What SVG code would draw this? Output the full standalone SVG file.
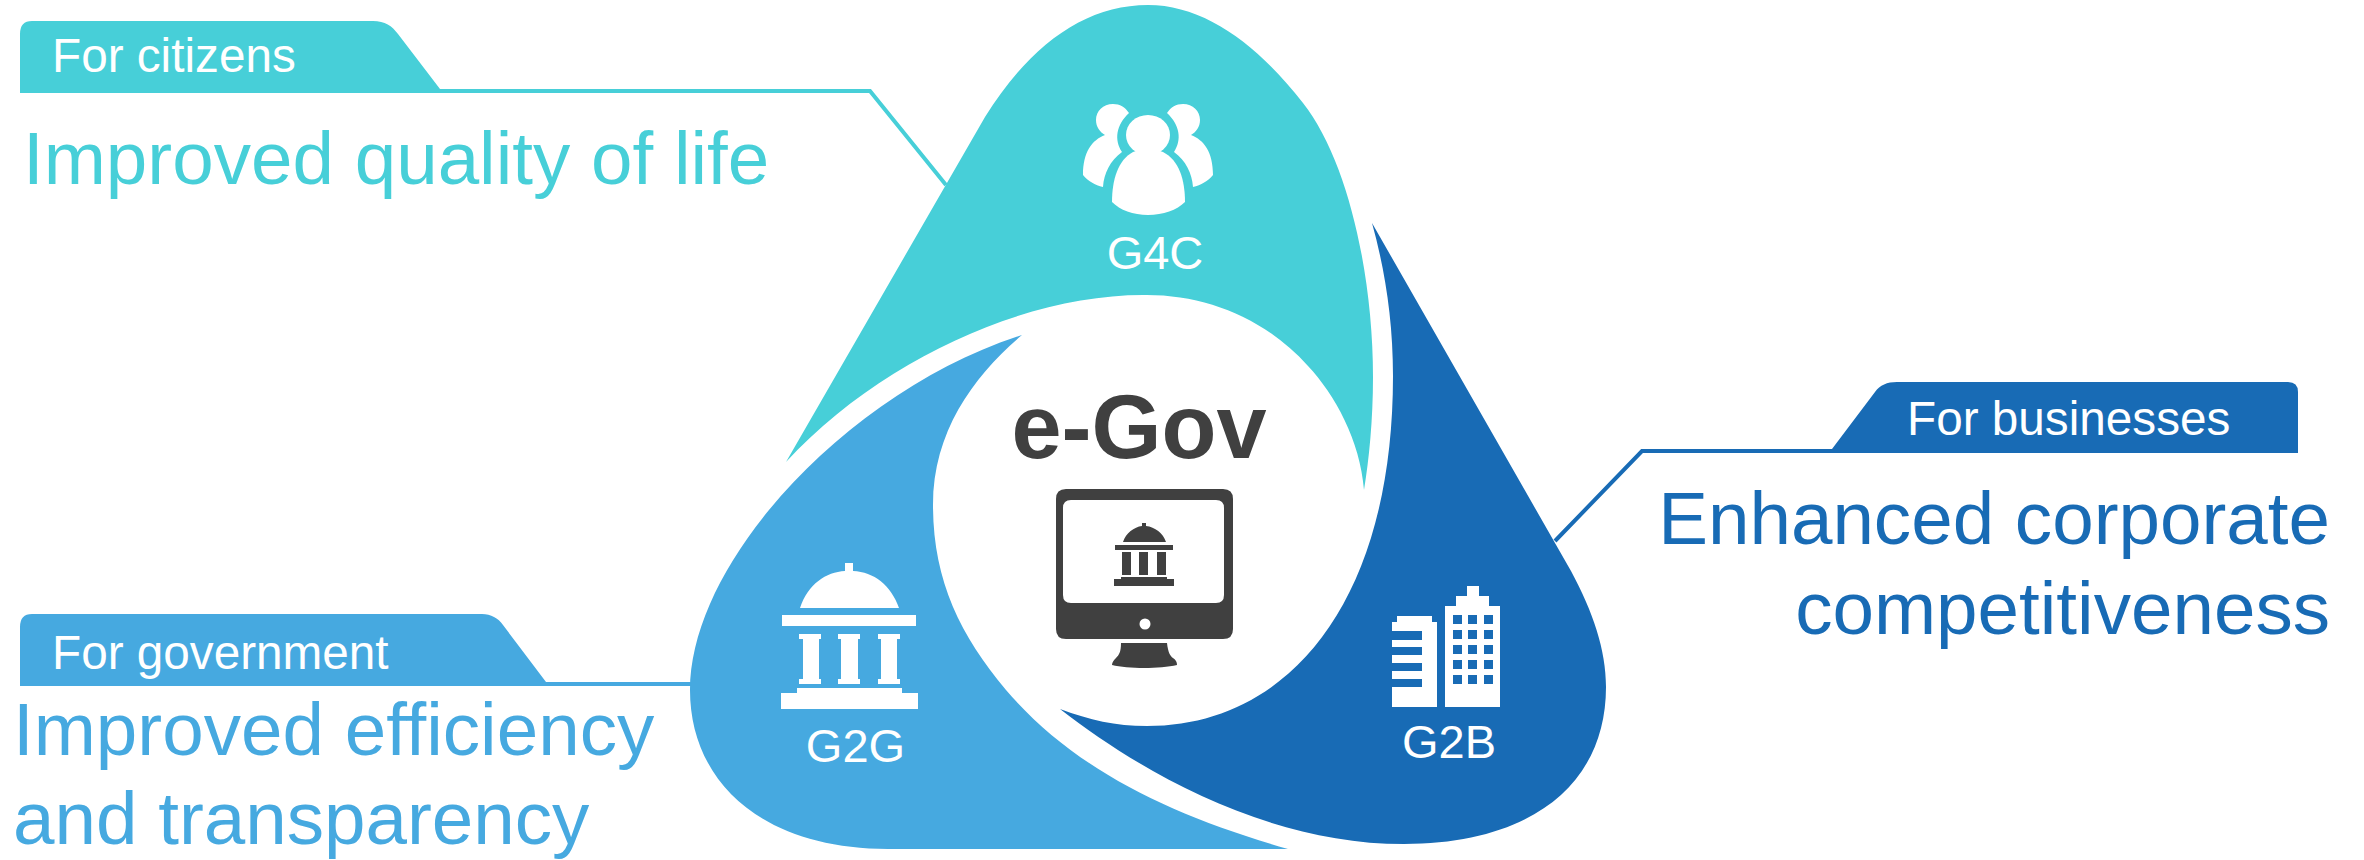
<svg xmlns="http://www.w3.org/2000/svg" width="2364" height="860" viewBox="0 0 2364 860">
<style>
text{font-family:"Liberation Sans",Arial,sans-serif}
.teal{fill:#47CFD8}.light{fill:#46A9E0}.dark{fill:#186BB5}.grey{fill:#404040}.w{fill:#fff}
.tab{font-size:47.7px;fill:#fff}
.big{font-size:74.6px}
.code{font-size:47px;fill:#fff}
.cn{fill:none;stroke-width:4}
</style>
<defs>
<g id="bank">
<path d="M800,608C808,584 826,572 845,571V563H853V571C874,572 891,585 899,608Z"/>
<rect x="782" y="615" width="134" height="11"/>
<path d="M799,634H821V639H819V679H821V684H799V679H803V639H799Z"/>
<path d="M838,634H860V639H858V679H860V684H838V679H841V639H838Z"/>
<path d="M878,634H900V639H897V679H900V684H878V679H881V639H878Z"/>
<path d="M797,688H902V693H918V709H781V693H797Z"/>
</g>
</defs>
<rect width="2364" height="860" fill="#fff"/>
<g id="connectors">
<path class="cn" stroke="#47CFD8" d="M440,91H870L946,185"/>
<path class="cn" stroke="#46A9E0" d="M546,684H692"/>
<path class="cn" stroke="#186BB5" d="M1832,451H1642L1555,541"/>
</g>
<g id="g4c">
<path class="teal" d="M786,462L985,117C1030,45 1085,5 1148,5C1205,5 1258,45 1303,103C1348,160 1373,275 1373,377C1373,420 1369,460 1364,490C1360,440 1335,395 1308,366C1265,318 1205,294 1143,295C1025,295 880,360 786,462Z"/>
<g class="w">
<ellipse cx="1148" cy="135" rx="22" ry="20"/>
<path d="M1133,152C1118,160 1112,180 1112,202C1120,210 1133,215 1148,215C1163,215 1177,210 1185,202C1185,180 1179,160 1163,152Q1148,145 1133,152Z"/>
<path d="M1129,113C1125,107 1120,104 1113,104C1103,104 1096,111 1096,120C1096,127 1100,132 1105,135C1092,140 1083,152 1083,175C1088,181 1095,185 1103,187C1104,173 1110,161 1122,152C1114,140 1116,125 1129,113Z"/>
<path d="M1167,113C1171,107 1176,104 1183,104C1193,104 1200,111 1200,120C1200,127 1196,132 1191,135C1204,140 1213,152 1213,175C1208,181 1201,185 1193,187C1192,173 1186,161 1174,152C1182,140 1180,125 1167,113Z"/>
</g>
<text class="code" x="1155" y="269" text-anchor="middle">G4C</text>
</g>
<g id="g2g">
<path class="light" d="M1022,335C975,375 933,430 933,505C933,580 960,635 1006,690C1075,770 1170,815 1288,849L888,849C760,849 690,780 690,690C690,560 850,390 1022,335Z"/>
<use href="#bank" class="w"/>
<text class="code" x="855.5" y="762" text-anchor="middle">G2G</text>
</g>
<g id="g2b">
<path class="dark" d="M1372,223L1571,571C1593,612 1606,650 1606,687C1606,785 1530,844 1404,844C1270,844 1145,775 1060,709C1090,720 1115,726 1147,726C1290,726 1393,600 1393,376C1393,320 1385,270 1372,223Z"/>
<path class="w" d="M1445,606H1456V596H1467V586H1479V596H1489V606H1500V707H1445Z"/>
<path class="w" d="M1392,622H1397V616H1432V622H1437V707H1392V687H1422V679H1392V671H1422V663H1392V655H1422V647H1392V640H1422V631H1392Z"/>
<path class="dark" d="M1453,615h9v9h-9zM1468,615h9v9h-9zM1484,615h9v9h-9zM1453,630h9v9h-9zM1468,630h9v9h-9zM1484,630h9v9h-9zM1453,645h9v9h-9zM1468,645h9v9h-9zM1484,645h9v9h-9zM1453,660h9v9h-9zM1468,660h9v9h-9zM1484,660h9v9h-9zM1453,675h9v9h-9zM1468,675h9v9h-9zM1484,675h9v9h-9z"/>
<text class="code" x="1449" y="758" text-anchor="middle">G2B</text>
</g>
<g id="egov">
<text x="1139" y="458" text-anchor="middle" font-size="90" font-weight="700" class="grey">e-Gov</text>
<path class="grey" fill-rule="evenodd" d="M1066,489H1223Q1233,489 1233,499V629Q1233,639 1223,639H1066Q1056,639 1056,629V499Q1056,489 1066,489ZM1071,500Q1063,500 1063,508V595Q1063,603 1071,603H1216Q1224,603 1224,595V508Q1224,500 1216,500Z"/>
<circle class="w" cx="1145" cy="624" r="5.5"/>
<path class="grey" d="M1121,643H1167C1168,652 1170,656 1173,658C1176,660 1177,662 1177,665C1160,669 1128,669 1112,665C1112,662 1114,660 1116,658C1119,655 1121,652 1121,643Z"/>
<g class="grey">
<path d="M1123,542C1126,533 1134,527 1142,526V523H1146V526C1155,527 1163,533 1166,542Z"/>
<rect x="1115" y="545" width="58" height="5"/>
<rect x="1122" y="552" width="9" height="23"/><rect x="1139" y="552" width="9" height="23"/><rect x="1157" y="552" width="9" height="23"/>
<path d="M1121,577H1167V579H1174V586H1114V579H1121Z"/>
</g>
</g>
<g id="citizens">
<path class="teal" d="M20,93V34Q20,21 32,21H373C385,21 392,26 398,34L440,89L444,93Z"/>
<text class="tab" x="52" y="72">For citizens</text>
<text class="big teal" x="23" y="184">Improved quality of life</text>
</g>
<g id="government">
<path class="light" d="M20,686V627Q20,614 32,614H482C491,614 498,618 503,625L546,682L550,686Z"/>
<text class="tab" x="52" y="669">For government</text>
<text class="big light" x="13" y="755">Improved efficiency</text>
<text class="big light" x="13" y="844">and transparency</text>
</g>
<g id="businesses">
<path class="dark" d="M2298,453V392Q2298,382 2288,382H1897C1887,382 1880,385 1875,392L1832,449L1830,453Z"/>
<text class="tab" x="1907" y="435">For businesses</text>
<text class="big dark" x="2330" y="544" text-anchor="end">Enhanced corporate</text>
<text class="big dark" x="2330" y="634" text-anchor="end">competitiveness</text>
</g>
</svg>
